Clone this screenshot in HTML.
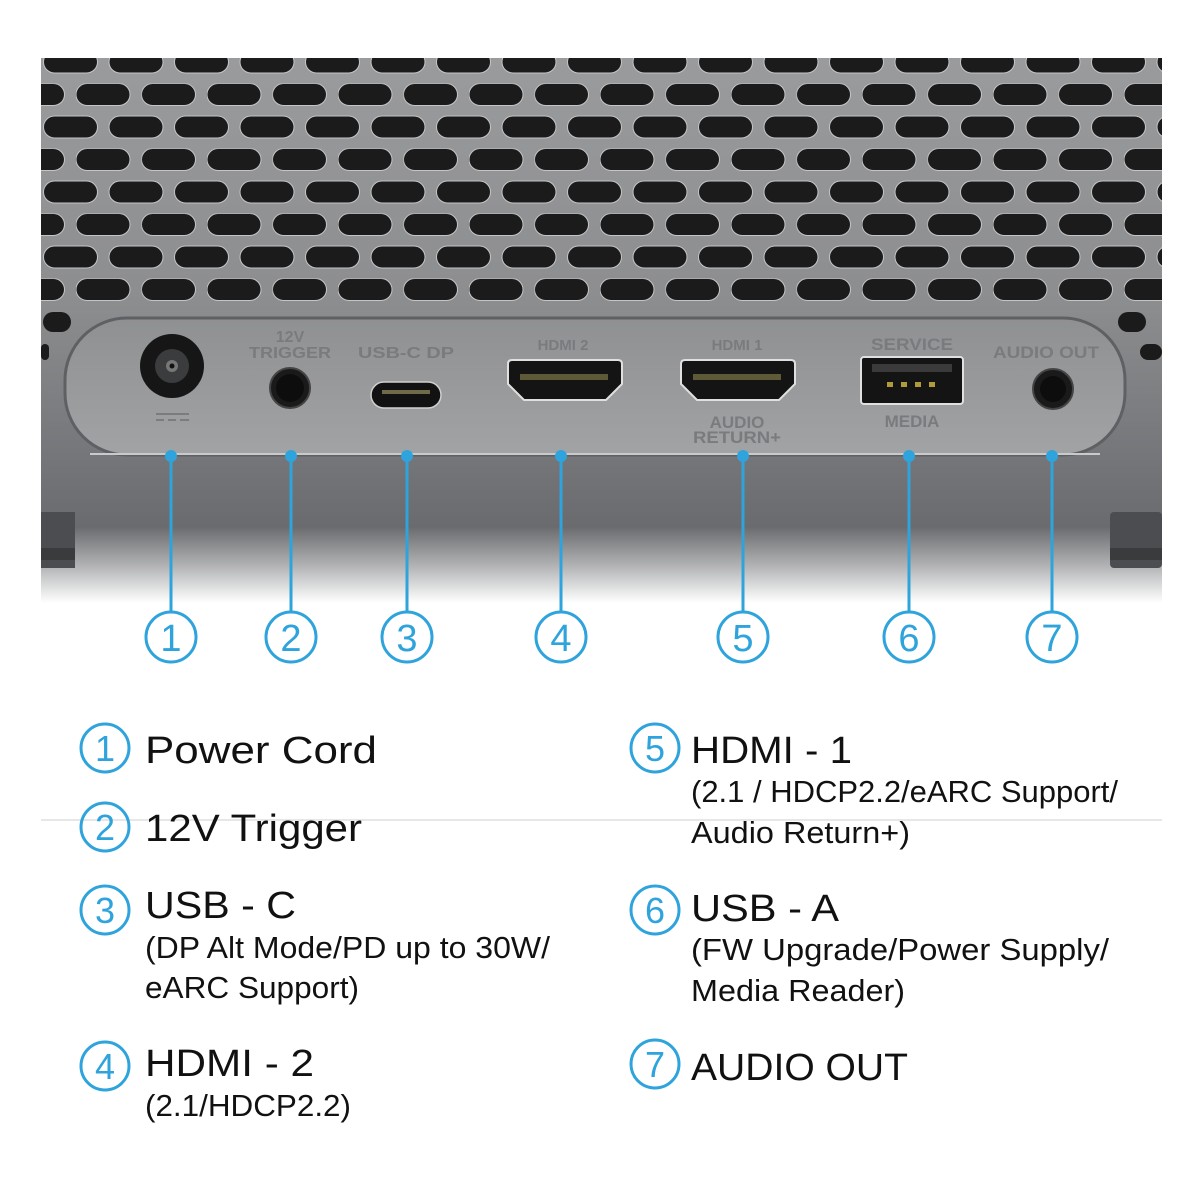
<!DOCTYPE html>
<html><head><meta charset="utf-8"><style>
html,body{margin:0;padding:0;background:#fff;}
svg{display:block;}
text{font-family:"Liberation Sans",sans-serif;}
</style></head><body>
<svg width="1200" height="1200" viewBox="0 0 1200 1200" xmlns="http://www.w3.org/2000/svg">
<defs>
  <linearGradient id="body" x1="0" y1="0" x2="0" y2="1">
    <stop offset="0" stop-color="#9a9b9d"/>
    <stop offset="0.45" stop-color="#8c8d8f"/>
    <stop offset="0.72" stop-color="#76777a"/>
    <stop offset="0.86" stop-color="#6a6b6e"/>
    <stop offset="0.93" stop-color="#b0b1b3"/>
    <stop offset="1" stop-color="#ffffff"/>
  </linearGradient>
  <linearGradient id="panel" x1="0" y1="0" x2="0" y2="1">
    <stop offset="0" stop-color="#8f9092"/>
    <stop offset="1" stop-color="#a2a3a5"/>
  </linearGradient>
  <pattern id="grille" x="76" y="83.5" width="65.5" height="65" patternUnits="userSpaceOnUse">
    <rect x="0" y="0" width="54" height="22" rx="11" fill="#1b1b1c" stroke="#c4c5c7" stroke-width="1"/>
    <rect x="33" y="32.5" width="54" height="22" rx="11" fill="#1b1b1c" stroke="#c4c5c7" stroke-width="1"/>
    <rect x="-32.5" y="32.5" width="54" height="22" rx="11" fill="#1b1b1c" stroke="#c4c5c7" stroke-width="1"/>
  </pattern>
  <clipPath id="gclip"><rect x="41" y="58" width="1121" height="245"/></clipPath>
</defs>

<!-- device body -->
<rect x="41" y="58" width="1121" height="545" fill="url(#body)"/>
<rect x="41" y="58" width="1121" height="245" fill="url(#grille)" clip-path="url(#gclip)"/>
<rect x="43" y="312" width="28" height="20" rx="10" fill="#1b1b1c"/>
<rect x="1118" y="312" width="28" height="20" rx="10" fill="#1b1b1c"/>
<rect x="41" y="344" width="8" height="16" rx="4" fill="#1b1b1c"/>
<rect x="1140" y="344" width="22" height="16" rx="8" fill="#1b1b1c"/>
<!-- feet -->
<rect x="41" y="512" width="34" height="56" fill="#4c4d50"/>
<rect x="41" y="548" width="34" height="12" fill="#3a3b3d"/>
<rect x="1110" y="512" width="52" height="56" rx="4" fill="#4c4d50"/>
<rect x="1110" y="548" width="52" height="12" fill="#3a3b3d"/>
<rect x="41" y="568" width="1121" height="40" fill="url(#body)" opacity="0"/>

<!-- panel -->
<rect x="65" y="318" width="1060" height="137" rx="62" fill="url(#panel)" stroke="#5f6063" stroke-width="3"/>
<path d="M90 454 H1100" stroke="#c9cacc" stroke-width="2"/>

<!-- power jack -->
<circle cx="172" cy="366" r="32" fill="#161617"/>
<circle cx="172" cy="366" r="17" fill="#3b3c3e"/>
<circle cx="172" cy="366" r="6" fill="#777"/>
<circle cx="172" cy="366" r="2.5" fill="#111"/>
<g fill="#7b7c7f">
<rect x="156" y="413" width="33" height="2"/>
<rect x="156" y="419" width="8" height="2"/><rect x="168" y="419" width="8" height="2"/><rect x="180" y="419" width="9" height="2"/>
</g>

<!-- panel labels -->
<g fill="#7a7b7e" font-weight="bold" font-size="16" text-anchor="middle">
<text x="290" y="342">12V</text>
<text x="290" y="358" textLength="82" lengthAdjust="spacingAndGlyphs">TRIGGER</text>
<text x="406" y="358" textLength="96" lengthAdjust="spacingAndGlyphs">USB-C DP</text>
<text x="563" y="350" font-size="15">HDMI 2</text>
<text x="737" y="350" font-size="15">HDMI 1</text>
<text x="737" y="428" font-size="17">AUDIO</text>
<text x="737" y="443" font-size="17" textLength="88" lengthAdjust="spacingAndGlyphs">RETURN+</text>
<text x="912" y="350" font-size="17" textLength="82" lengthAdjust="spacingAndGlyphs">SERVICE</text>
<text x="912" y="427" font-size="17">MEDIA</text>
<text x="1046" y="358" font-size="17" textLength="106" lengthAdjust="spacingAndGlyphs">AUDIO OUT</text>
</g>

<!-- 12V jack -->
<circle cx="290" cy="388" r="20" fill="#1a1a1b" stroke="#444" stroke-width="2"/>
<circle cx="290" cy="388" r="14" fill="#0d0d0d"/>
<!-- USB-C -->
<rect x="371" y="382" width="70" height="26" rx="13" fill="#121212" stroke="#d0d0d0" stroke-width="1.5"/>
<rect x="382" y="390" width="48" height="4" fill="#6e6a4a"/>
<!-- HDMI 2 -->
<path d="M508 364 Q508 360 512 360 H618 Q622 360 622 364 V384 L606 400 H524 L508 384 Z" fill="#141414" stroke="#e0e0e0" stroke-width="2"/>
<rect x="520" y="374" width="88" height="6" fill="#5e5a38"/>
<!-- HDMI 1 -->
<path d="M681 364 Q681 360 685 360 H791 Q795 360 795 364 V384 L779 400 H697 L681 384 Z" fill="#141414" stroke="#e0e0e0" stroke-width="2"/>
<rect x="693" y="374" width="88" height="6" fill="#5e5a38"/>
<!-- USB A -->
<rect x="861" y="357" width="102" height="47" rx="3" fill="#141414" stroke="#e0e0e0" stroke-width="2"/>
<rect x="872" y="364" width="80" height="8" fill="#3a3a3a"/>
<g fill="#b09a3a"><rect x="887" y="382" width="6" height="5"/><rect x="901" y="382" width="6" height="5"/><rect x="915" y="382" width="6" height="5"/><rect x="929" y="382" width="6" height="5"/></g>
<!-- audio out -->
<circle cx="1053" cy="389" r="20" fill="#1a1a1b" stroke="#444" stroke-width="2"/>
<circle cx="1053" cy="389" r="13" fill="#0d0d0d"/>

<!-- connectors -->
<g stroke="#2ea3dc" stroke-width="3" fill="none">
<path d="M171 456 V612"/><path d="M291 456 V612"/><path d="M407 456 V612"/><path d="M561 456 V612"/>
<path d="M743 456 V612"/><path d="M909 456 V612"/><path d="M1052 456 V612"/>
</g>
<g fill="#2ea3dc">
<circle cx="171" cy="456" r="6"/><circle cx="291" cy="456" r="6"/><circle cx="407" cy="456" r="6"/><circle cx="561" cy="456" r="6"/>
<circle cx="743" cy="456" r="6"/><circle cx="909" cy="456" r="6"/><circle cx="1052" cy="456" r="6"/>
</g>
<g stroke="#2ea3dc" stroke-width="3" fill="#fff">
<circle cx="171" cy="637" r="25"/><circle cx="291" cy="637" r="25"/><circle cx="407" cy="637" r="25"/><circle cx="561" cy="637" r="25"/>
<circle cx="743" cy="637" r="25"/><circle cx="909" cy="637" r="25"/><circle cx="1052" cy="637" r="25"/>
</g>
<g fill="#2ea3dc" font-size="38" text-anchor="middle">
<text x="171" y="651">1</text><text x="291" y="651">2</text><text x="407" y="651">3</text><text x="561" y="651">4</text>
<text x="743" y="651">5</text><text x="909" y="651">6</text><text x="1052" y="651">7</text>
</g>

<!-- divider -->
<path d="M41 820 H1162" stroke="#cfcfcf" stroke-width="1"/>

<!-- legend circles -->
<g stroke="#2ea3dc" stroke-width="3" fill="none">
<circle cx="105" cy="748" r="24"/><circle cx="105" cy="827" r="24"/><circle cx="105" cy="910" r="24"/><circle cx="105" cy="1066" r="24"/>
<circle cx="655" cy="748" r="24"/><circle cx="655" cy="910" r="24"/><circle cx="655" cy="1064" r="24"/>
</g>
<g fill="#2ea3dc" font-size="36" text-anchor="middle">
<text x="105" y="761">1</text><text x="105" y="840">2</text><text x="105" y="923">3</text><text x="105" y="1079">4</text>
<text x="655" y="761">5</text><text x="655" y="923">6</text><text x="655" y="1077">7</text>
</g>

<!-- legend text -->
<g fill="#111" font-size="38">
<text x="145" y="763" textLength="232" lengthAdjust="spacingAndGlyphs">Power Cord</text>
<text x="145" y="841" textLength="217" lengthAdjust="spacingAndGlyphs">12V Trigger</text>
<text x="145" y="918" textLength="151" lengthAdjust="spacingAndGlyphs">USB - C</text>
<text x="145" y="1076" textLength="169" lengthAdjust="spacingAndGlyphs">HDMI - 2</text>
<text x="691" y="763" textLength="161" lengthAdjust="spacingAndGlyphs">HDMI - 1</text>
<text x="691" y="921" textLength="148" lengthAdjust="spacingAndGlyphs">USB - A</text>
<text x="691" y="1080" textLength="217" lengthAdjust="spacingAndGlyphs">AUDIO OUT</text>
</g>
<g fill="#111" font-size="31">
<text x="145" y="958" textLength="405" lengthAdjust="spacingAndGlyphs">(DP Alt Mode/PD up to 30W/</text>
<text x="145" y="998" textLength="214" lengthAdjust="spacingAndGlyphs">eARC Support)</text>
<text x="145" y="1116" textLength="206" lengthAdjust="spacingAndGlyphs">(2.1/HDCP2.2)</text>
<text x="691" y="802" textLength="427" lengthAdjust="spacingAndGlyphs">(2.1 / HDCP2.2/eARC Support/</text>
<text x="691" y="843" textLength="219" lengthAdjust="spacingAndGlyphs">Audio Return+)</text>
<text x="691" y="960" textLength="418" lengthAdjust="spacingAndGlyphs">(FW Upgrade/Power Supply/</text>
<text x="691" y="1001" textLength="214" lengthAdjust="spacingAndGlyphs">Media Reader)</text>
</g>
</svg>
</body></html>
